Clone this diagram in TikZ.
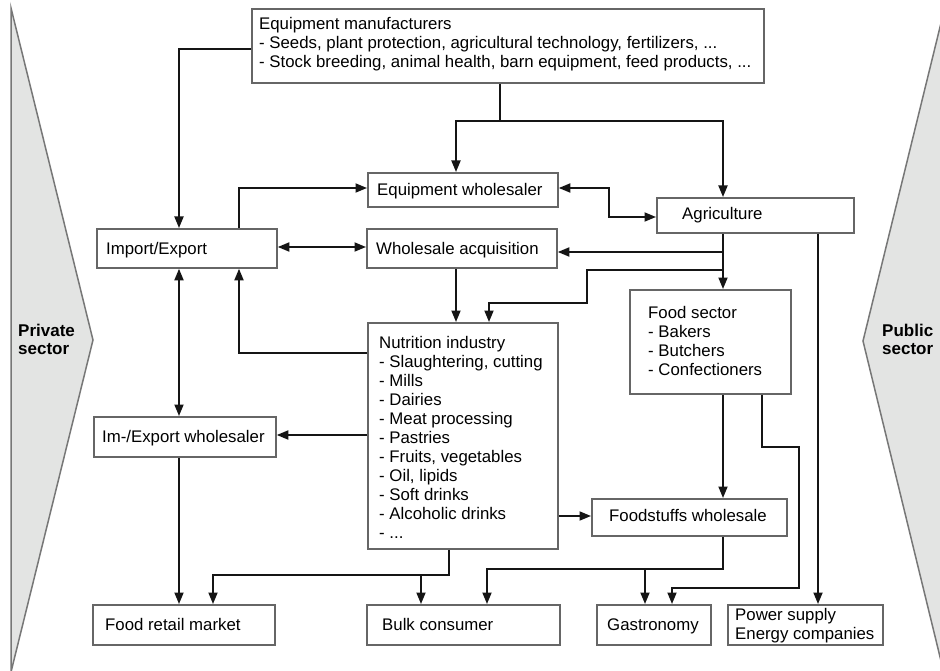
\documentclass[tikz,border=0pt]{standalone}
\usepackage{fontspec}
\setmainfont{Liberation Sans}
\usetikzlibrary{arrows.meta}
\definecolor{boxgray}{HTML}{666666}
\definecolor{wedgefill}{HTML}{E3E4E3}
\definecolor{wedgeline}{HTML}{777777}
\definecolor{conn}{HTML}{151515}
\begin{document}
\begin{tikzpicture}[x=1pt,y=-1pt,
  box/.style={draw=boxgray, line width=1.8pt, fill=white, anchor=north west, inner sep=0pt},
  txt/.style={anchor=west, align=left, inner sep=0pt, font=\fontsize{16.8}{19}\selectfont},
  txtone/.style={anchor=west, inner sep=0pt, text height=12.2pt, text depth=3.6pt, font=\fontsize{16.8}{19}\selectfont},
  sect/.style={anchor=west, align=left, inner sep=0pt, font=\bfseries\fontsize{17}{18}\selectfont},
  wedge/.style={fill=wedgefill, draw=wedgeline, line width=1.5pt, line join=miter},
  arr/.style={draw=conn, line width=1.8pt, -{Triangle[length=11.5pt,width=9pt]}},
  dbl/.style={draw=conn, line width=1.8pt, {Triangle[length=11.5pt,width=9pt]}-{Triangle[length=11.5pt,width=9pt]}},
  ln/.style={draw=conn, line width=1.8pt}]
\useasboundingbox (0,0) rectangle (940,671);
\fill[white] (0,0) rectangle (940,671);
% sector wedges
\draw[wedge] (11,8) -- (93,340) -- (11,672) -- cycle;
\draw[wedge] (942,19) -- (863,341) -- (942,665);
\node[sect] (priv) at (18,339) {Private\\sector};
\node[sect] (publ) at (882,339) {Public\\sector};
% boxes
\node[box, minimum width=512pt, minimum height=74pt] (eqm) at (251,8) {};
\node[box, minimum width=190pt, minimum height=34pt] (eqw) at (367,172) {};
\node[box, minimum width=180pt, minimum height=39pt] (imp) at (96,228) {};
\node[box, minimum width=190pt, minimum height=39pt] (wsa) at (366,228) {};
\node[box, minimum width=197pt, minimum height=35pt] (agr) at (656,197) {};
\node[box, minimum width=161pt, minimum height=104pt] (fsec) at (629,289) {};
\node[box, minimum width=190pt, minimum height=226pt] (nut) at (367,322) {};
\node[box, minimum width=182pt, minimum height=40pt] (iew) at (93,416) {};
\node[box, minimum width=195pt, minimum height=37pt] (fsw) at (591,498) {};
\node[box, minimum width=182pt, minimum height=40pt] (frm) at (92,604) {};
\node[box, minimum width=193pt, minimum height=40pt] (bulk) at (366,604) {};
\node[box, minimum width=114pt, minimum height=40pt] (gas) at (596,604) {};
\node[box, minimum width=155pt, minimum height=40pt] (pow) at (727,604) {};
% texts
\node[txt] (eqm-t) at (259,44) {Equipment manufacturers\\- Seeds, plant protection, agricultural technology, fertilizers, ...\\- Stock breeding, animal health, barn equipment, feed products, ...};
\node[txtone] (eqw-t) at (377,191) {Equipment wholesaler};
\node[txtone] (imp-t) at (106,250) {Import/Export};
\node[txtone] (wsa-t) at (376,250) {Wholesale acquisition};
\node[txtone] (agr-t) at (682,215) {Agriculture};
\node[txt] (fsec-t) at (648,340.5) {Food sector\\- Bakers\\- Butchers\\- Confectioners};
\node[txt] (nut-t) at (379,437) {Nutrition industry\\- Slaughtering, cutting\\- Mills\\- Dairies\\- Meat processing\\- Pastries\\- Fruits, vegetables\\- Oil, lipids\\- Soft drinks\\- Alcoholic drinks\\- ...};
\node[txtone] (iew-t) at (102,438) {Im-/Export wholesaler};
\node[txtone] (fsw-t) at (609,517) {Foodstuffs wholesale};
\node[txtone] (frm-t) at (105,626) {Food retail market};
\node[txtone] (bulk-t) at (382,626) {Bulk consumer};
\node[txtone] (gas-t) at (607,626) {Gastronomy};
\node[txt] (pow-t) at (735,626) {Power supply\\Energy companies};
% junction coordinates
\coordinate (j1) at (500,121);
\coordinate (a1) at (723,252);
\coordinate (a2) at (723,270);
\coordinate (n1) at (449,575);
\coordinate (n2) at (421,575);
\coordinate (f1) at (723,569);
\coordinate (f2) at (645,569);
% connectors
\draw[arr] (eqm.west |- 0,49) -| (imp.north -| 179,0);
\draw[ln] (eqm.south -| j1) -- (j1);
\draw[arr] (j1) -| (eqw.north -| 456,0);
\draw[arr] (j1) -| (agr.north -| 723,0);
\draw[arr] (imp.north -| 239,0) |- (eqw.west |- 0,188);
\draw[dbl] (imp.east |- 0,247) -- (wsa.west |- 0,247);
\draw[dbl] (eqw.east |- 0,188) -| (609,217) -- (agr.west |- 0,217);
\draw[arr] (agr.south -| 723,0) -- (fsec.north -| 723,0);
\draw[arr] (a1) -- (wsa.east |- a1);
\draw[arr] (a2) -| (587,303) -| (nut.north -| 489,0);
\draw[arr] (wsa.south -| 456,0) -- (nut.north -| 456,0);
\draw[arr] (nut.west |- 0,353) -| (imp.south -| 239,0);
\draw[dbl] (imp.south -| 179,0) -- (iew.north -| 179,0);
\draw[arr] (nut.west |- 0,435) -- (iew.east |- 0,435);
\draw[arr] (iew.south -| 179,0) -- (frm.north -| 179,0);
\draw[arr] (nut.south -| n1) -- (n1) -| (frm.north -| 213,0);
\draw[arr] (n2) -- (bulk.north -| n2);
\draw[arr] (nut.east |- 0,516) -- (fsw.west |- 0,516);
\draw[arr] (fsec.south -| 723,0) -- (fsw.north -| 723,0);
\draw[arr] (fsec.south -| 762,0) |- (799,447) |- (672,588) -- (gas.north -| 672,0);
\draw[arr] (fsw.south -| f1) -- (f1) -| (bulk.north -| 487,0);
\draw[arr] (f2) -- (gas.north -| f2);
\draw[arr] (agr.south -| 818,0) -- (pow.north -| 818,0);
\end{tikzpicture}
\end{document}
